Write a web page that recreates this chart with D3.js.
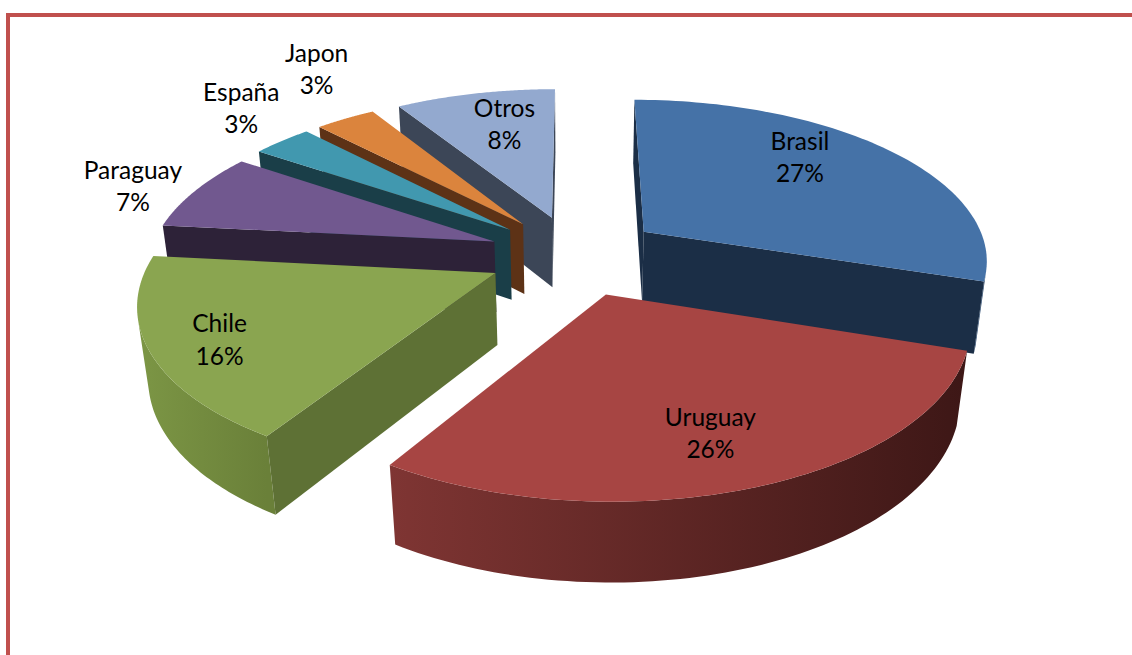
<!DOCTYPE html>
<html>
<head>
<meta charset="utf-8">
<script src="https://cdn.jsdelivr.net/npm/d3@7/dist/d3.min.js"></script>
<style>
html,body{margin:0;padding:0;background:#fff;}
svg{display:block;}
text{font-family:Lato,"Open Sans",sans-serif;font-size:24.5px;fill:#000;text-anchor:middle;}
</style>
</head>
<body>
<svg id="chart" width="1132" height="655"></svg>
<script>
// Export destinations and their share
const categories = ["Brasil","Uruguay","Chile","Paraguay","España","Japon","Otros"];
const shares = [27,26,16,7,3,3,8];
const topColors = ["#4572a7","#a74543","#8aa550","#71588f","#4198af","#db843d","#93a9cf"];
const cutColors = ["#1b2e46","#4a1b19","#5e7135","#2d2238","#1a3e48","#5d3216","#3c4657"];
const wallLeftColors = ["#2a4a70","#7f3533","#7c9645","#4a3a60","#2c6a7c","#9a5a28","#56667f"];
const wallRightColors = ["#1b2e46","#3d1716","#6a8039","#2d2238","#1a3e48","#5d3216","#3c4657"];
// Label placement: fraction of the radius along the bisector, then a pixel shift
const labelReach = [0.62,0.62,0.72,1.2,1.3,1.4,0.82];
const labelShiftX = [0,17,-32,-6,20,32,17];
const labelShiftY = [-26,24,8,1,-13,-17,7];
// Back-to-front paint order
const paintOrder = [6,5,4,3,0,2,1];

const svg = d3.select("#chart");

// Frame along the top and left
svg.append("path")
  .attr("d","M8,655V15H1132")
  .attr("fill","none").attr("stroke","#c0504d").attr("stroke-width",4);

// Perspective camera for the tilted disc
const cx = 575, cy = 255, radiusX = 345, radiusY = 160, depth = 73;
const tilt = 0.16, shrink = 0.025, explode = 0.252;

function project(u, v, z) {
  const s = 1 / (1 - tilt * v + shrink * z);
  return [cx + radiusX * u * s, cy + (radiusY * v + depth * z) * s];
}

// Positive when a face, listed in the slice's own winding, looks at the camera
const facesCamera = pts => d3.polygonArea(pts) > 0;

const pie = d3.pie().sort(null).value(d => d)(shares);
const polar = (a, r) => [Math.sin(a) * r, -Math.cos(a) * r];
const line = d3.line();
const defs = svg.append("defs");

paintOrder.forEach(i => {
  const slice = pie[i];
  const mid = (slice.startAngle + slice.endAngle) / 2;
  const [ox, oy] = polar(mid, explode);
  const at = (a, r, z) => {
    const [u, v] = polar(a, r);
    return project(u + ox, v + oy, z);
  };
  const steps = d3.range(0, 81).map(k =>
    slice.startAngle + (slice.endAngle - slice.startAngle) * k / 80);

  const apexTop = at(0, 0, 0), apexLow = at(0, 0, 1);
  const rimTop = steps.map(a => at(a, 1, 0));
  const rimLow = steps.map(a => at(a, 1, 1));
  const n = steps.length - 1;

  // Outer wall, only the stretch turned toward the camera
  const front = d3.range(0, n).filter(k =>
    facesCamera([rimTop[k], rimTop[k + 1], rimLow[k + 1], rimLow[k]]));
  if (front.length) {
    const first = d3.min(front), last = d3.max(front) + 1;
    const upper = rimTop.slice(first, last + 1);
    const lower = rimLow.slice(first, last + 1).reverse();
    const xs = upper.map(p => p[0]);
    const gid = "wall" + i;
    const grad = defs.append("linearGradient").attr("id", gid)
      .attr("gradientUnits", "userSpaceOnUse")
      .attr("x1", d3.min(xs)).attr("x2", d3.max(xs)).attr("y1", 0).attr("y2", 0);
    grad.append("stop").attr("offset", 0).attr("stop-color", wallLeftColors[i]);
    grad.append("stop").attr("offset", 1).attr("stop-color", wallRightColors[i]);
    svg.append("path")
      .attr("d", line(upper.concat(lower)) + "Z")
      .attr("fill", `url(#${gid})`);
  }

  // Cut faces along the radial edges
  [[apexTop, rimTop[0], rimLow[0], apexLow],
   [rimTop[n], apexTop, apexLow, rimLow[n]]].forEach(face => {
    if (facesCamera(face)) {
      svg.append("path").attr("d", line(face) + "Z").attr("fill", cutColors[i]);
    }
  });

  // Upper face
  svg.append("path")
    .attr("d", line([apexTop].concat(rimTop)) + "Z")
    .attr("fill", topColors[i]);
});

// Name and percentage above one another
pie.forEach((slice, i) => {
  const mid = (slice.startAngle + slice.endAngle) / 2;
  const [ox, oy] = polar(mid, explode);
  const [u, v] = polar(mid, labelReach[i]);
  const [px, py] = project(u + ox, v + oy, 0);
  const x = px + labelShiftX[i], y = py + labelShiftY[i];
  const label = svg.append("text").attr("x", x).attr("y", y);
  label.append("tspan").attr("x", x).attr("dy", "-0.15em").text(categories[i]);
  label.append("tspan").attr("x", x).attr("dy", "1.31em").text(shares[i] + "%");
});
</script>
</body>
</html>
